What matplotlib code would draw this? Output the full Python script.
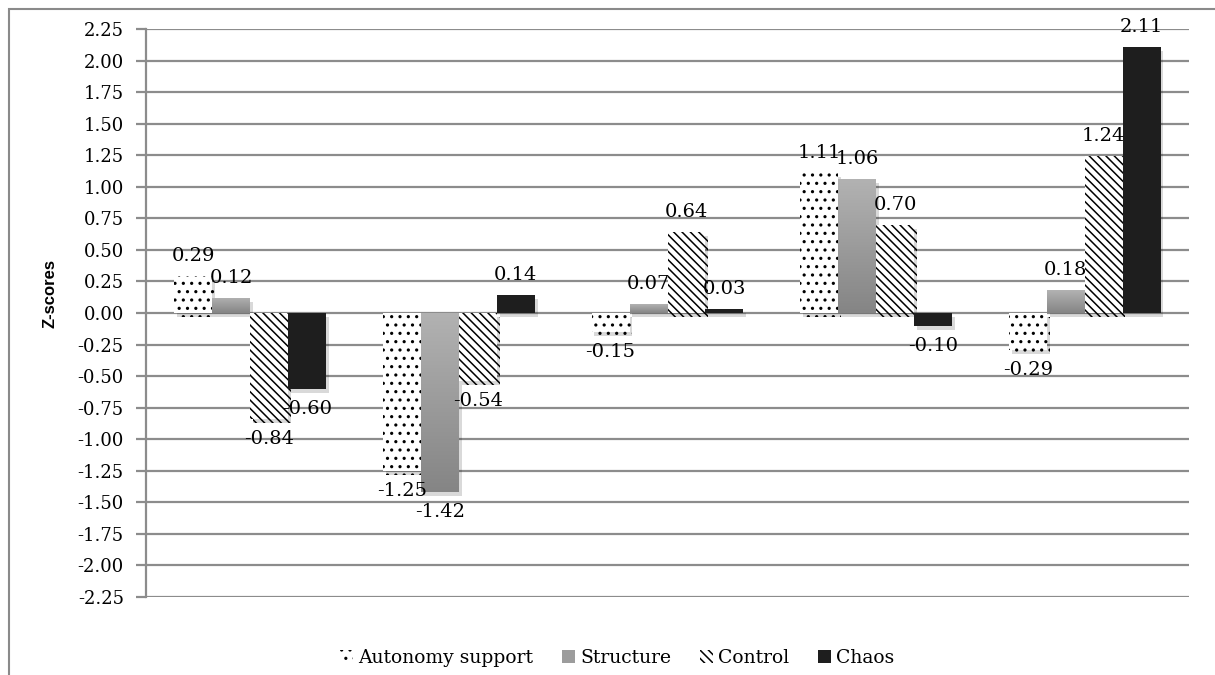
import numpy as np
import matplotlib
matplotlib.use("Agg")
import matplotlib.pyplot as plt
import matplotlib.patheffects as pe
from matplotlib.patches import Rectangle
from matplotlib.colors import LinearSegmentedColormap

plt.rcParams['font.family'] = ['DejaVu Serif']
plt.rcParams['hatch.linewidth'] = 1.1

# z-scores per profile group
series_names = ["Autonomy support", "Structure", "Control", "Chaos"]
autonomy = [0.29, -1.25, -0.15, 1.11, -0.29]
structure = [0.12, -1.42, 0.07, 1.06, 0.18]
control = [-0.84, -0.54, 0.64, 0.70, 1.24]
chaos = [-0.60, 0.14, 0.03, -0.10, 2.11]
yticks = np.arange(-2.25, 2.26, 0.25)

fig = plt.figure(figsize=(12.15, 6.75), dpi=100)
ax = fig.add_axes([0.1202, 0.1156, 0.8584, 0.8414])

# outer chart frame (only left and top edges fall inside the image)
fig.patches.append(Rectangle((9 / 1215, -0.1), 1.2, 1.1 - 9 / 675, transform=fig.transFigure,
                             fill=False, edgecolor="#8a8a8a", linewidth=1.5))

x = np.arange(len(autonomy))
w = 0.182
shadow = [pe.SimplePatchShadow(offset=(2, -3), shadow_rgbFace="k", alpha=0.15), pe.Normal()]

for yv in yticks:
    ax.axhline(yv, color="#8c8c8c", linewidth=1.6, zorder=0)

dots = ".."
slashes = "\\\\\\\\"
b1 = ax.bar(x - 1.5 * w, autonomy, w, facecolor="white", edgecolor="black", linewidth=0,
            hatch=dots, zorder=2)
b2 = ax.bar(x - 0.5 * w, structure, w, facecolor="#9c9c9c", edgecolor="none", zorder=2)
b3 = ax.bar(x + 0.5 * w, control, w, facecolor="white", edgecolor="black", linewidth=0,
            hatch=slashes, zorder=2)
b4 = ax.bar(x + 1.5 * w, chaos, w, facecolor="#1e1e1e", edgecolor="none", zorder=2)

for bars in (b1, b2, b3, b4):
    for p in bars:
        p.set_path_effects(shadow)

# vertical grey gradient on the structure bars, lighter at the top
grey_ramp = LinearSegmentedColormap.from_list("grey_ramp", ["#b2b2b2", "#858585"])
grad = np.linspace(0, 1, 100).reshape(-1, 1)
for p in b2:
    x0 = p.get_x()
    y0 = min(p.get_y(), p.get_y() + p.get_height())
    h = abs(p.get_height())
    im = ax.imshow(grad, cmap=grey_ramp, extent=[x0, x0 + p.get_width(), y0, y0 + h],
                   aspect="auto", zorder=3, origin="upper")
    im.set_clip_path(p)

# data labels
for bars, vals in ((b1, autonomy), (b2, structure), (b3, control), (b4, chaos)):
    for p, v in zip(bars, vals):
        cx = p.get_x() + p.get_width() / 2
        off = 8 if v >= 0 else -8
        ax.annotate(f"{v:.2f}", (cx, v), xytext=(0, off), textcoords="offset points",
                    ha="center", va="bottom" if v >= 0 else "top", fontsize=14, zorder=5)

ax.set_xlim(-0.5, 4.5)
ax.set_ylim(-2.25, 2.25)
ax.set_yticks(yticks)
ax.set_yticklabels([f"{t:.2f}" for t in yticks], fontsize=13)
ax.set_xticks([])
for s in ("top", "right", "bottom"):
    ax.spines[s].set_visible(False)
ax.spines["left"].set_color("#8c8c8c")
ax.spines["left"].set_linewidth(1.6)
ax.tick_params(axis="y", length=7, width=1.6, color="#8c8c8c", pad=9)
ax.set_ylabel("Z-scores", fontsize=12, fontweight="bold", family="Liberation Sans")
ax.yaxis.set_label_coords(-0.085, 0.535)

handles = [Rectangle((0, 0), 1, 1, facecolor="white", hatch=dots, edgecolor="black", linewidth=0),
           Rectangle((0, 0), 1, 1, facecolor="#9c9c9c", edgecolor="none"),
           Rectangle((0, 0), 1, 1, facecolor="white", hatch=slashes, edgecolor="black", linewidth=0),
           Rectangle((0, 0), 1, 1, facecolor="#1e1e1e", edgecolor="none")]
fig.legend(handles, series_names, loc="center", bbox_to_anchor=(0.508, 0.025), ncol=4, frameon=False,
           fontsize=13.5, handlelength=0.7, handleheight=0.7, handletextpad=0.3, columnspacing=1.5)

fig.savefig("out.png", dpi=100)
